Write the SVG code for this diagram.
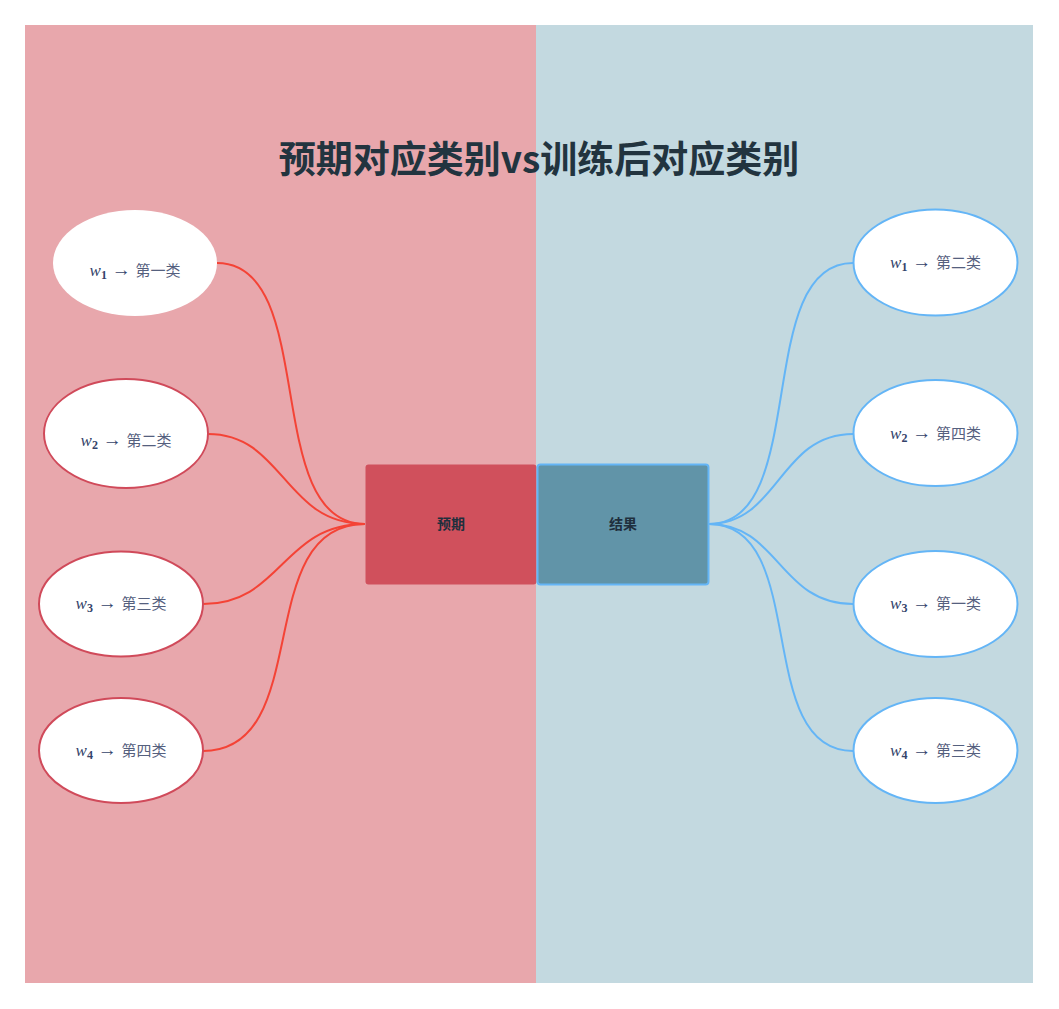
<svg xmlns="http://www.w3.org/2000/svg" width="1059" height="1009" viewBox="0 0 1059 1009">
<style>
.title{font-family:"Noto Sans CJK SC","Noto Sans",sans-serif;font-weight:bold;font-size:37px;fill:#22343f}
.box{font-family:"Noto Sans CJK SC",sans-serif;font-weight:bold;font-size:14px;fill:#1f2f3d}
.lbl{font-family:"Liberation Serif","Noto Sans CJK SC",serif;font-size:17px;fill:#34436a}
.w{font-style:italic}
.sub{font-weight:bold;font-size:12px}
.arr{font-size:19px}
.cjk{font-family:"Noto Sans CJK SC",sans-serif;font-size:15px;fill:#55607e}
.lnode{fill:#fff;stroke:#d04a5a;stroke-width:2}
.rnode{fill:#fff;stroke:#64b5f6;stroke-width:2}
.lc{fill:none;stroke:#f44336;stroke-width:2}
.rc{fill:none;stroke:#64b5f6;stroke-width:2}
</style>
<rect x="0" y="0" width="1059" height="1009" fill="#fff"/>
<rect x="25" y="25" width="511" height="958" fill="#e8a7ac"/>
<rect x="536" y="25" width="497" height="958" fill="#c3d9e0"/>
<text class="title" x="539" y="173" text-anchor="middle">预期对应类别vs训练后对应类别</text>
<g id="connectors">
<path class="lc" d="M217 263C320 263 260 524 365 524"/>
<path class="lc" d="M208 434C284 434 284 524 365 524"/>
<path class="lc" d="M203 604C282 604 282 524 365 524"/>
<path class="lc" d="M203 751C316 751 250 524 365 524"/>
<path class="rc" d="M853 263C752 263 811 524 709 524"/>
<path class="rc" d="M853 434C779 434 779 524 709 524"/>
<path class="rc" d="M853 604C779 604 779 524 709 524"/>
<path class="rc" d="M853 751C752 751 811 524 709 524"/>
</g>
<g id="center-left">
<rect x="365.5" y="464.5" width="171" height="120" rx="3" fill="#d0505c"/>
<text class="box" x="451" y="529" text-anchor="middle">预期</text>
</g>
<g id="center-right">
<rect x="537.5" y="464.5" width="171" height="120" rx="3" fill="#6194a8" stroke="#64b5f6" stroke-width="2"/>
<text class="box" x="623" y="529" text-anchor="middle">结果</text>
</g>
<g id="l1"><ellipse cx="135" cy="263" rx="82" ry="53" fill="#fff"/>
<text class="lbl" x="135" y="276" text-anchor="middle"><tspan class="w">w</tspan><tspan class="sub" dy="3">1</tspan><tspan class="arr" dy="-3"> → </tspan><tspan class="cjk">第一类</tspan></text></g>
<g id="l2"><ellipse class="lnode" cx="126" cy="433.5" rx="82" ry="54.5"/>
<text class="lbl" x="126" y="446" text-anchor="middle"><tspan class="w">w</tspan><tspan class="sub" dy="3">2</tspan><tspan class="arr" dy="-3"> → </tspan><tspan class="cjk">第二类</tspan></text></g>
<g id="l3"><ellipse class="lnode" cx="121" cy="604" rx="82" ry="52.5"/>
<text class="lbl" x="121" y="609" text-anchor="middle"><tspan class="w">w</tspan><tspan class="sub" dy="3">3</tspan><tspan class="arr" dy="-3"> → </tspan><tspan class="cjk">第三类</tspan></text></g>
<g id="l4"><ellipse class="lnode" cx="121" cy="750.5" rx="82" ry="52.5"/>
<text class="lbl" x="121" y="756" text-anchor="middle"><tspan class="w">w</tspan><tspan class="sub" dy="3">4</tspan><tspan class="arr" dy="-3"> → </tspan><tspan class="cjk">第四类</tspan></text></g>
<g id="r1"><ellipse class="rnode" cx="935.5" cy="262.5" rx="82" ry="53"/>
<text class="lbl" x="935.5" y="268" text-anchor="middle"><tspan class="w">w</tspan><tspan class="sub" dy="3">1</tspan><tspan class="arr" dy="-3"> → </tspan><tspan class="cjk">第二类</tspan></text></g>
<g id="r2"><ellipse class="rnode" cx="935.5" cy="433" rx="82" ry="53"/>
<text class="lbl" x="935.5" y="439" text-anchor="middle"><tspan class="w">w</tspan><tspan class="sub" dy="3">2</tspan><tspan class="arr" dy="-3"> → </tspan><tspan class="cjk">第四类</tspan></text></g>
<g id="r3"><ellipse class="rnode" cx="935.5" cy="604" rx="82" ry="53"/>
<text class="lbl" x="935.5" y="609" text-anchor="middle"><tspan class="w">w</tspan><tspan class="sub" dy="3">3</tspan><tspan class="arr" dy="-3"> → </tspan><tspan class="cjk">第一类</tspan></text></g>
<g id="r4"><ellipse class="rnode" cx="935.5" cy="750.5" rx="82" ry="52.5"/>
<text class="lbl" x="935.5" y="756" text-anchor="middle"><tspan class="w">w</tspan><tspan class="sub" dy="3">4</tspan><tspan class="arr" dy="-3"> → </tspan><tspan class="cjk">第三类</tspan></text></g>
</svg>
